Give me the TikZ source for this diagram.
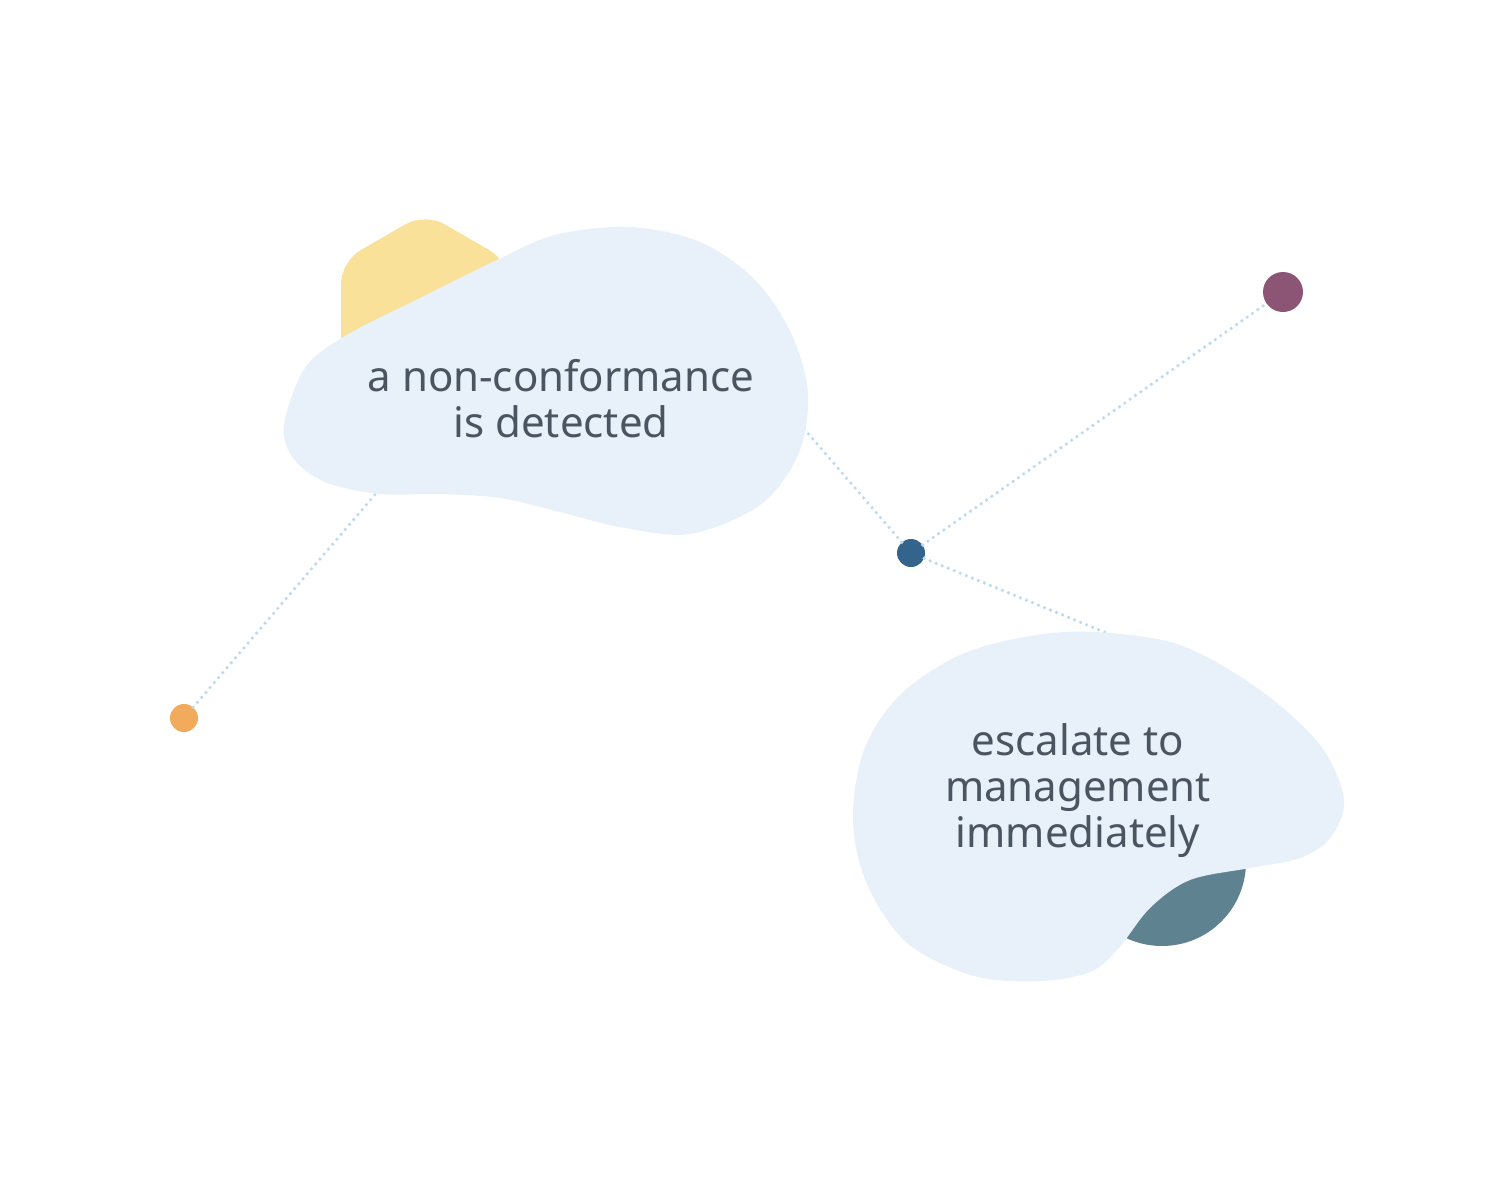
\documentclass[tikz,border=0pt]{standalone}
\usepackage{fontspec}
\setmainfont{Noto Sans}
\definecolor{blobfill}{HTML}{E8F1F9}
\definecolor{linkcol}{HTML}{BDDAEF}
\definecolor{hexcol}{HTML}{F9E19A}
\definecolor{tealcol}{HTML}{5F8290}
\definecolor{bluedot}{HTML}{34648C}
\definecolor{purpledot}{HTML}{8C5576}
\definecolor{orangedot}{HTML}{F2AA5C}
\definecolor{txtcol}{HTML}{4A5561}
\tikzset{
  link/.style={draw=linkcol, line width=3.6pt, line cap=round, dash pattern=on 0pt off 6.5pt},
  dotnode/.style={circle, inner sep=0pt, minimum size=#1},
  blobtext/.style={align=center, text=txtcol, inner sep=0pt, font=\fontsize{42}{46}\selectfont},
}
\begin{document}
\begin{tikzpicture}[x=1pt,y=-1pt]
\useasboundingbox (0,0) rectangle (1500,1200);
\fill[white] (0,0) rectangle (1500,1200);
% dots
\node[dotnode=28pt, fill=bluedot] (hub) at (911,553) {};
\node[dotnode=40pt, fill=purpledot] (pdot) at (1283,292) {};
\node[dotnode=28pt, fill=orangedot] (odot) at (184,718) {};
\coordinate (c1) at (763,381);
\coordinate (c2) at (432,428);
\coordinate (c3) at (1163,656);
% links (behind blobs)
\draw[link] (hub) -- (pdot);
\draw[link] (hub) -- (c1);
\draw[link] (hub) -- (c3);
\draw[link] (odot) -- (c2);
% yellow hexagon
\fill[hexcol, rounded corners=22pt] (425,213) -- (509,261.5) -- (509,358.5) -- (425,407) -- (341,358.5) -- (341,261.5) -- cycle;
% teal leaf
\fill[tealcol] (1162,862) circle (84);
% blob 1
\fill[blobfill] plot[smooth cycle, tension=0.55] coordinates {
 (284,425) (305,368) (345,336) (420,298) (495,261) (555,235) (630,227) (700,242)
 (755,280) (792,335) (808,395) (798,455) (760,505) (690,534) (620,527) (560,512)
 (500,498) (440,494) (380,494) (325,482) (293,458)};
% blob 2
\fill[blobfill] plot[smooth cycle, tension=0.55] coordinates {
 (853,820) (864,750) (900,695) (960,655) (1030,636) (1095,632) (1180,645)
 (1260,690) (1320,745) (1344,800) (1330,838) (1300,858) (1250,868) (1190,880)
 (1150,908) (1118,949) (1090,972) (1040,981) (974,976) (907,943) (867,884)};
% texts
\node[blobtext] (t1) at (561,399) {a non-conformance\\is detected};
\node[blobtext] (t2) at (1078,791) {escalate to\\management\\immediately};
\end{tikzpicture}
\end{document}
